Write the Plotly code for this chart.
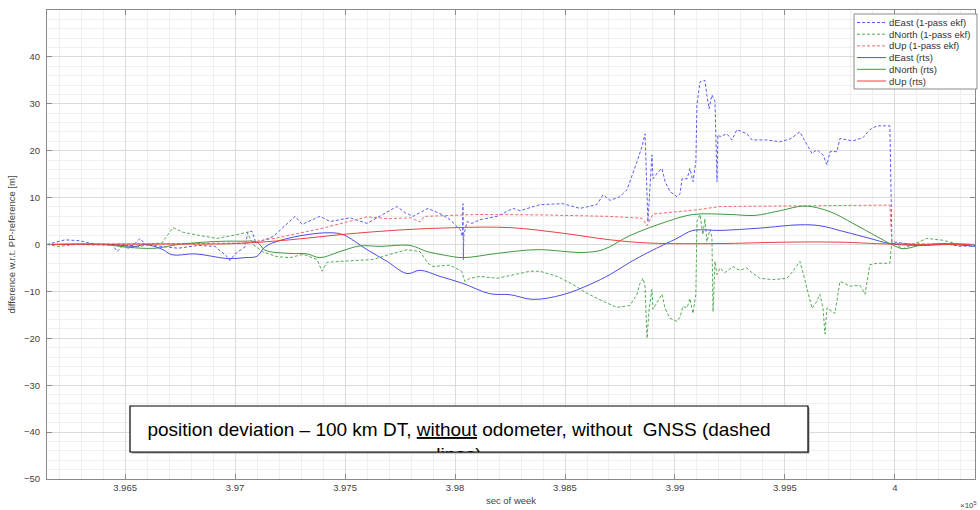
import plotly.graph_objects as go

# ---- data (x in units of 1e5 s, "sec of week") ----
east_ekf_x = [3.96145, 3.96227, 3.96295, 3.96364, 3.96441, 3.96464, 3.96486, 3.96536, 3.96568, 3.96591,
              3.96741, 3.96832, 3.96909, 3.96964, 3.96977, 3.97000, 3.97045, 3.97059, 3.97077, 3.97095,
              3.97173, 3.97273, 3.97305, 3.97386, 3.97432, 3.97523, 3.97600, 3.97736, 3.97773, 3.97809,
              3.97877, 3.97932, 3.97977, 3.98023, 3.98034, 3.98036, 3.98038, 3.98040, 3.98055, 3.98077,
              3.98114, 3.98191, 3.98264, 3.98295, 3.98386, 3.98491, 3.98568, 3.98645, 3.98673, 3.98705,
              3.98750, 3.98782, 3.98832, 3.98850, 3.98864, 3.98873, 3.98877, 3.98895, 3.98900, 3.98923,
              3.98941, 3.98955, 3.98977, 3.99009, 3.99023, 3.99032, 3.99055, 3.99068, 3.99082, 3.99095,
              3.99100, 3.99114, 3.99136, 3.99145, 3.99155, 3.99168, 3.99182, 3.99191, 3.99195, 3.99205,
              3.99236, 3.99259, 3.99282, 3.99327, 3.99350, 3.99418, 3.99477, 3.99523, 3.99568, 3.99600,
              3.99623, 3.99645, 3.99673, 3.99691, 3.99705, 3.99736, 3.99750, 3.99809, 3.99855, 3.99886,
              3.99918, 3.99977, 3.99986, 4.00114, 4.00227, 4.00295, 4.00364]
east_ekf_y = [0.0, 1.0, 0.8, 0.0, 0.0, -1.5, -0.4, -0.2, 1.3, 0.0,
              -0.8, -0.2, -0.4, -2.6, -3.4, -2.0, -0.5, 2.8, 2.8, 0.3,
              1.7, 6.0, 4.3, 6.0, 4.9, 5.7, 4.5, 8.1, 6.8, 6.0,
              7.7, 6.6, 5.3, 3.2, 1.7, 8.7, -3.2, 2.0, 4.9, 4.5,
              5.3, 6.0, 7.7, 7.2, 8.5, 8.7, 7.7, 8.5, 10.6, 9.4,
              10.2, 11.7, 18.3, 20.9, 23.6, 7.0, 4.8, 19.1, 14.0, 15.5,
              16.2, 13.4, 11.3, 10.2, 10.8, 14.0, 14.0, 16.2, 13.4, 17.7,
              29.8, 34.7, 35.0, 31.9, 28.9, 31.9, 30.5, 13.4, 23.4, 23.0,
              23.6, 22.3, 24.5, 23.6, 22.3, 22.3, 21.9, 22.5, 24.0, 21.3,
              19.4, 20.2, 19.1, 17.0, 19.8, 19.8, 22.6, 22.1, 22.8, 24.5,
              25.3, 25.3, 0.6, -0.2, 0.2, -0.4, -0.2]

north_ekf_x = [3.96145, 3.96195, 3.96273, 3.96477, 3.96514, 3.96668, 3.96718, 3.96736, 3.96764, 3.96818,
               3.96918, 3.97009, 3.97055, 3.97082, 3.97127, 3.97191, 3.97250, 3.97309, 3.97373, 3.97395,
               3.97418, 3.97477, 3.97627, 3.97718, 3.97782, 3.97841, 3.97877, 3.97900, 3.97977, 3.98030,
               3.98045, 3.98068, 3.98114, 3.98191, 3.98264, 3.98341, 3.98386, 3.98464, 3.98536, 3.98600,
               3.98673, 3.98736, 3.98795, 3.98827, 3.98841, 3.98855, 3.98864, 3.98873, 3.98882, 3.98895,
               3.98900, 3.98923, 3.98941, 3.98955, 3.98977, 3.99009, 3.99023, 3.99036, 3.99055, 3.99068,
               3.99082, 3.99095, 3.99100, 3.99114, 3.99127, 3.99136, 3.99145, 3.99159, 3.99168, 3.99173,
               3.99182, 3.99191, 3.99205, 3.99227, 3.99264, 3.99295, 3.99327, 3.99350, 3.99386, 3.99445,
               3.99509, 3.99536, 3.99568, 3.99582, 3.99600, 3.99623, 3.99645, 3.99659, 3.99673, 3.99682,
               3.99691, 3.99705, 3.99727, 3.99750, 3.99764, 3.99795, 3.99841, 3.99864, 3.99873, 3.99886,
               3.99918, 3.99977, 3.99986, 4.00036, 4.00145, 4.00218, 4.00295, 4.00364]
north_ekf_y = [0.0, -0.4, 0.0, -0.2, -0.8, 0.4, 3.6, 3.2, 2.6, 2.1,
               1.3, 2.1, 2.6, 0.0, -1.6, -2.6, -2.8, -2.1, -3.2, -5.7,
               -3.8, -3.6, -3.2, -1.9, -1.1, -1.5, -4.0, -4.7, -4.4, -5.7,
               -7.9, -7.2, -6.8, -7.2, -6.4, -5.7, -5.7, -6.8, -8.5, -10.4,
               -12.1, -13.4, -13.0, -10.6, -8.3, -7.2, -9.0, -20.0, -14.0, -9.6,
               -13.8, -12.1, -10.6, -13.6, -15.7, -16.4, -15.5, -13.2, -13.5, -11.5,
               -14.7, -10.6, 4.9, 6.4, 2.1, 5.5, 0.6, 3.2, 1.5, -14.3,
               -3.6, -6.4, -5.0, -6.0, -4.7, -5.5, -5.0, -6.0, -7.2, -7.5,
               -7.2, -5.7, -3.6, -6.0, -9.4, -13.6, -12.1, -10.6, -13.6, -19.1,
               -13.5, -14.0, -14.7, -7.9, -8.1, -8.9, -8.7, -10.6, -7.9, -4.3,
               -4.0, -4.0, 0.6, -0.9, 1.3, 0.9, 0.0, -0.4]

up_ekf_x = [3.96145, 3.96600, 3.97000, 3.97050, 3.97200, 3.97400, 3.97600, 3.97700, 3.97800, 3.97841,
            3.97860, 3.97950, 3.98100, 3.98400, 3.98700, 3.98850, 3.98873, 3.98900, 3.99000, 3.99100,
            3.99205, 3.99400, 3.99700, 3.99977, 3.99986, 4.00364]
up_ekf_y = [0.0, 0.1, 0.2, 0.3, 1.5, 3.5, 5.9, 5.5, 5.7, 4.8,
            6.0, 6.2, 6.4, 6.3, 6.0, 5.6, 4.0, 6.5, 7.0, 7.4,
            8.1, 8.2, 8.4, 8.4, 0.2, 0.0]

east_rts_x = [3.96145, 3.96441, 3.96545, 3.96591, 3.96668, 3.96714, 3.96818, 3.96968, 3.97045, 3.97100,
              3.97136, 3.97200, 3.97327, 3.97432, 3.97491, 3.97600, 3.97691, 3.97782, 3.97841, 3.97932,
              3.98036, 3.98159, 3.98250, 3.98355, 3.98491, 3.98614, 3.98705, 3.98795, 3.98886, 3.99009,
              3.99082, 3.99205, 3.99386, 3.99568, 3.99659, 3.99764, 3.99886, 3.99977, 4.00114, 4.00250,
              4.00364]
east_rts_y = [0.0, 0.0, -0.4, 0.0, -1.0, -2.2, -2.0, -3.0, -2.8, -2.5,
              -0.5, 0.8, 2.1, 2.5, 2.1, -1.1, -3.6, -6.2, -5.5, -6.8,
              -8.3, -10.5, -10.7, -11.7, -10.7, -8.5, -6.4, -3.8, -1.5, 1.3,
              3.0, 3.0, 3.5, 4.2, 4.0, 2.8, 1.3, 0.2, -0.2, 0.0,
              -0.4]

north_rts_x = [3.96145, 3.96400, 3.96514, 3.96636, 3.96741, 3.96895, 3.97023, 3.97100, 3.97136, 3.97250,
               3.97327, 3.97386, 3.97477, 3.97568, 3.97659, 3.97795, 3.97873, 3.97955, 3.98036, 3.98191,
               3.98373, 3.98582, 3.98673, 3.98795, 3.98964, 3.99082, 3.99250, 3.99364, 3.99477, 3.99591,
               3.99705, 3.99809, 3.99918, 3.99986, 4.00036, 4.00114, 4.00218, 4.00364]
north_rts_y = [0.0, 0.0, -0.6, -0.8, 0.0, 0.6, 0.7, 0.5, -1.2, -1.9,
               -2.0, -2.8, -1.5, -0.3, -0.4, -0.2, -1.5, -2.3, -2.8, -1.9,
               -1.1, -1.7, -1.1, 1.9, 4.9, 6.4, 6.4, 6.2, 7.2, 8.2,
               7.0, 4.5, 1.7, 0.0, -0.9, -0.2, 0.2, 0.0]

up_rts_x = [3.96145, 3.96600, 3.97000, 3.97250, 3.97500, 3.97750, 3.98000, 3.98250, 3.98491, 3.98705,
            3.98886, 3.99200, 3.99500, 3.99750, 3.99977, 4.00364]
up_rts_y = [0.0, 0.1, 0.2, 1.0, 2.2, 3.1, 3.6, 3.6, 2.4, 1.0,
            0.3, 0.2, 0.5, 0.5, 0.1, 0.0]

x_tickvals = [3.965, 3.97, 3.975, 3.98, 3.985, 3.99, 3.995, 4.0]
x_ticktext = ["3.965", "3.97", "3.975", "3.98", "3.985", "3.99", "3.995", "4"]
y_tickvals = [-50, -40, -30, -20, -10, 0, 10, 20, 30, 40]

# ---- layout geometry (pixels of the 980x510 page) ----
PL, PR, PT, PB = 47, 975, 10, 479
def px(xp):
    return (xp - PL) / (PR - PL)
def py(yp):
    return (PB - yp) / (PB - PT)

fig = go.Figure()

dash = "3px,2px"
series = [
    ("dEast (1-pass ekf)", east_ekf_x, east_ekf_y, "#5c5cf2", dash, "linear"),
    ("dNorth (1-pass ekf)", north_ekf_x, north_ekf_y, "#55aa55", dash, "linear"),
    ("dUp (1-pass ekf)", up_ekf_x, up_ekf_y, "#f06a6a", dash, "linear"),
    ("dEast (rts)", east_rts_x, east_rts_y, "#4d4de8", "solid", "spline"),
    ("dNorth (rts)", north_rts_x, north_rts_y, "#3f9a3f", "solid", "spline"),
    ("dUp (rts)", up_rts_x, up_rts_y, "#ee4040", "solid", "spline"),
]
for name, xs, ys, col, dsh, shape in series:
    fig.add_trace(go.Scatter(x=xs, y=ys, mode="lines", name=name, showlegend=False,
                             line=dict(color=col, width=1, dash=dsh, shape=shape)))

font_family = "Liberation Sans, Arial"
axis_common = dict(showline=True, linecolor="#8a8a8a", linewidth=1, mirror="ticks",
                   ticks="inside", ticklen=5, tickcolor="#8a8a8a",
                   showgrid=True, gridcolor="#dcdcdc", gridwidth=1, zeroline=False,
                   tickfont=dict(family=font_family, size=9.5, color="#444"))

fig.update_xaxes(range=[3.96145, 4.00364], tickvals=x_tickvals, ticktext=x_ticktext,
                 minor=dict(dtick=0.001, tick0=3.965, showgrid=True, gridcolor="#efefef", ticks=""),
                 title=dict(text="sec of week", standoff=4,
                            font=dict(family=font_family, size=9.5, color="#444")),
                 **axis_common)
fig.update_yaxes(range=[-50, 50], tickvals=y_tickvals, ticklabelstandoff=4,
                 minor=dict(dtick=2, showgrid=True, gridcolor="#efefef", ticks=""),
                 title=dict(text="difference w.r.t. PP-reference [m]", standoff=6,
                            font=dict(family=font_family, size=9.5, color="#444")),
                 **axis_common)

# ---- legend box (drawn manually to match the compact MATLAB legend) ----
fig.add_shape(type="rect", xref="paper", yref="paper",
              x0=px(854), x1=px(977), y0=py(89), y1=py(14),
              fillcolor="white", line=dict(color="#8a8a8a", width=1))
row_y0, row_dy = 22.5, 11.7
for i, (name, xs, ys, col, dsh, shape) in enumerate(series):
    yy = row_y0 + i * row_dy
    fig.add_shape(type="line", xref="paper", yref="paper",
                  x0=px(857), x1=px(886), y0=py(yy), y1=py(yy),
                  line=dict(color=col, width=1, dash=dsh))
    fig.add_annotation(xref="paper", yref="paper", x=px(887), y=py(yy),
                       xanchor="left", yanchor="middle", showarrow=False, text=name,
                       font=dict(family=font_family, size=9.5, color="#333"))

# ---- text box with light shadow ----
fig.add_shape(type="rect", xref="paper", yref="paper",
              x0=px(131.5), x1=px(809.5), y0=py(453.5), y1=py(407.5),
              fillcolor="#9a9a9a", line=dict(width=0))
fig.add_shape(type="rect", xref="paper", yref="paper",
              x0=px(130), x1=px(808), y0=py(452), y1=py(406),
              fillcolor="white", line=dict(color="black", width=1.2))
fig.add_annotation(xref="paper", yref="paper", x=px(459), y=py(418),
                   xanchor="center", yanchor="top", width=650, height=33, valign="top",
                   borderpad=0, showarrow=False,
                   text="position deviation \u2013 100 km DT, <u>without</u> odometer, without\u00a0 GNSS (dashed<br>lines)",
                   font=dict(family=font_family, size=19, color="black"))

fig.add_annotation(xref="paper", yref="paper", x=px(958), y=py(505),
                   xanchor="left", yanchor="middle", showarrow=False,
                   text="\u00d710<sup>5</sup>",
                   font=dict(family=font_family, size=8, color="#444"))

fig.update_layout(
    width=980, height=510,
    margin=dict(l=PL, r=980 - PR, t=PT, b=510 - PB),
    paper_bgcolor="white", plot_bgcolor="white",
    showlegend=False,
)

fig.write_html("out.html")
